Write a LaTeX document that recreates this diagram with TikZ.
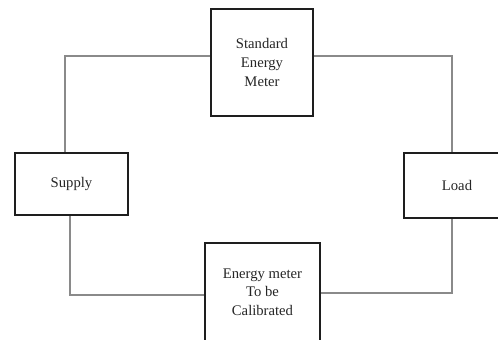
\documentclass[tikz,border=0pt]{standalone}
\usepackage{fontspec}
\setmainfont{Liberation Serif}
\usepackage{tikz}
\usetikzlibrary{arrows.meta,positioning}
\definecolor{wiregrey}{HTML}{8A8A8A}
\definecolor{inkdark}{HTML}{1E1E1E}

\begin{document}
\begin{tikzpicture}[x=0.75pt,y=-0.75pt,
      mbox/.style={draw=inkdark,line width=1.5pt,fill=white,
                   align=center,inner sep=4pt,text=black!85,
                   font=\fontsize{11}{14}\selectfont},
      wire/.style={color=wiregrey,line width=1.1pt}]
    \path[use as bounding box,clip] (0,0) rectangle (498,339);
    \node[mbox,minimum width=76.5pt,minimum height=80.25pt] (std) at (262,62.5)
      {Standard\\Energy\\Meter};
    \node[mbox,minimum width=84.75pt,minimum height=46.5pt] (sup) at (71.5,184)
      {Supply};
    \node[mbox,minimum width=79.5pt,minimum height=48.75pt] (load) at (457,185.5)
      {Load};
    \node[mbox,minimum width=86.25pt,minimum height=73.5pt] (cal) at (262.5,292)
      {Energy meter\\To be\\Calibrated};
    % corners of the wiring
    \coordinate (c1) at (65,56);
    \coordinate (c2) at (452,56);
    \coordinate (c3) at (70,295);
    \coordinate (c4) at (452,293);
    \draw[wire] (std.west |- c1) -- (c1) -- (sup.north -| c1);
    \draw[wire] (std.east |- c2) -- (c2) -- (load.north -| c2);
    \draw[wire] (sup.south -| c3) -- (c3) -- (cal.west |- c3);
    \draw[wire] (cal.east |- c4) -- (c4) -- (load.south -| c4);
  \end{tikzpicture}
\end{document}
